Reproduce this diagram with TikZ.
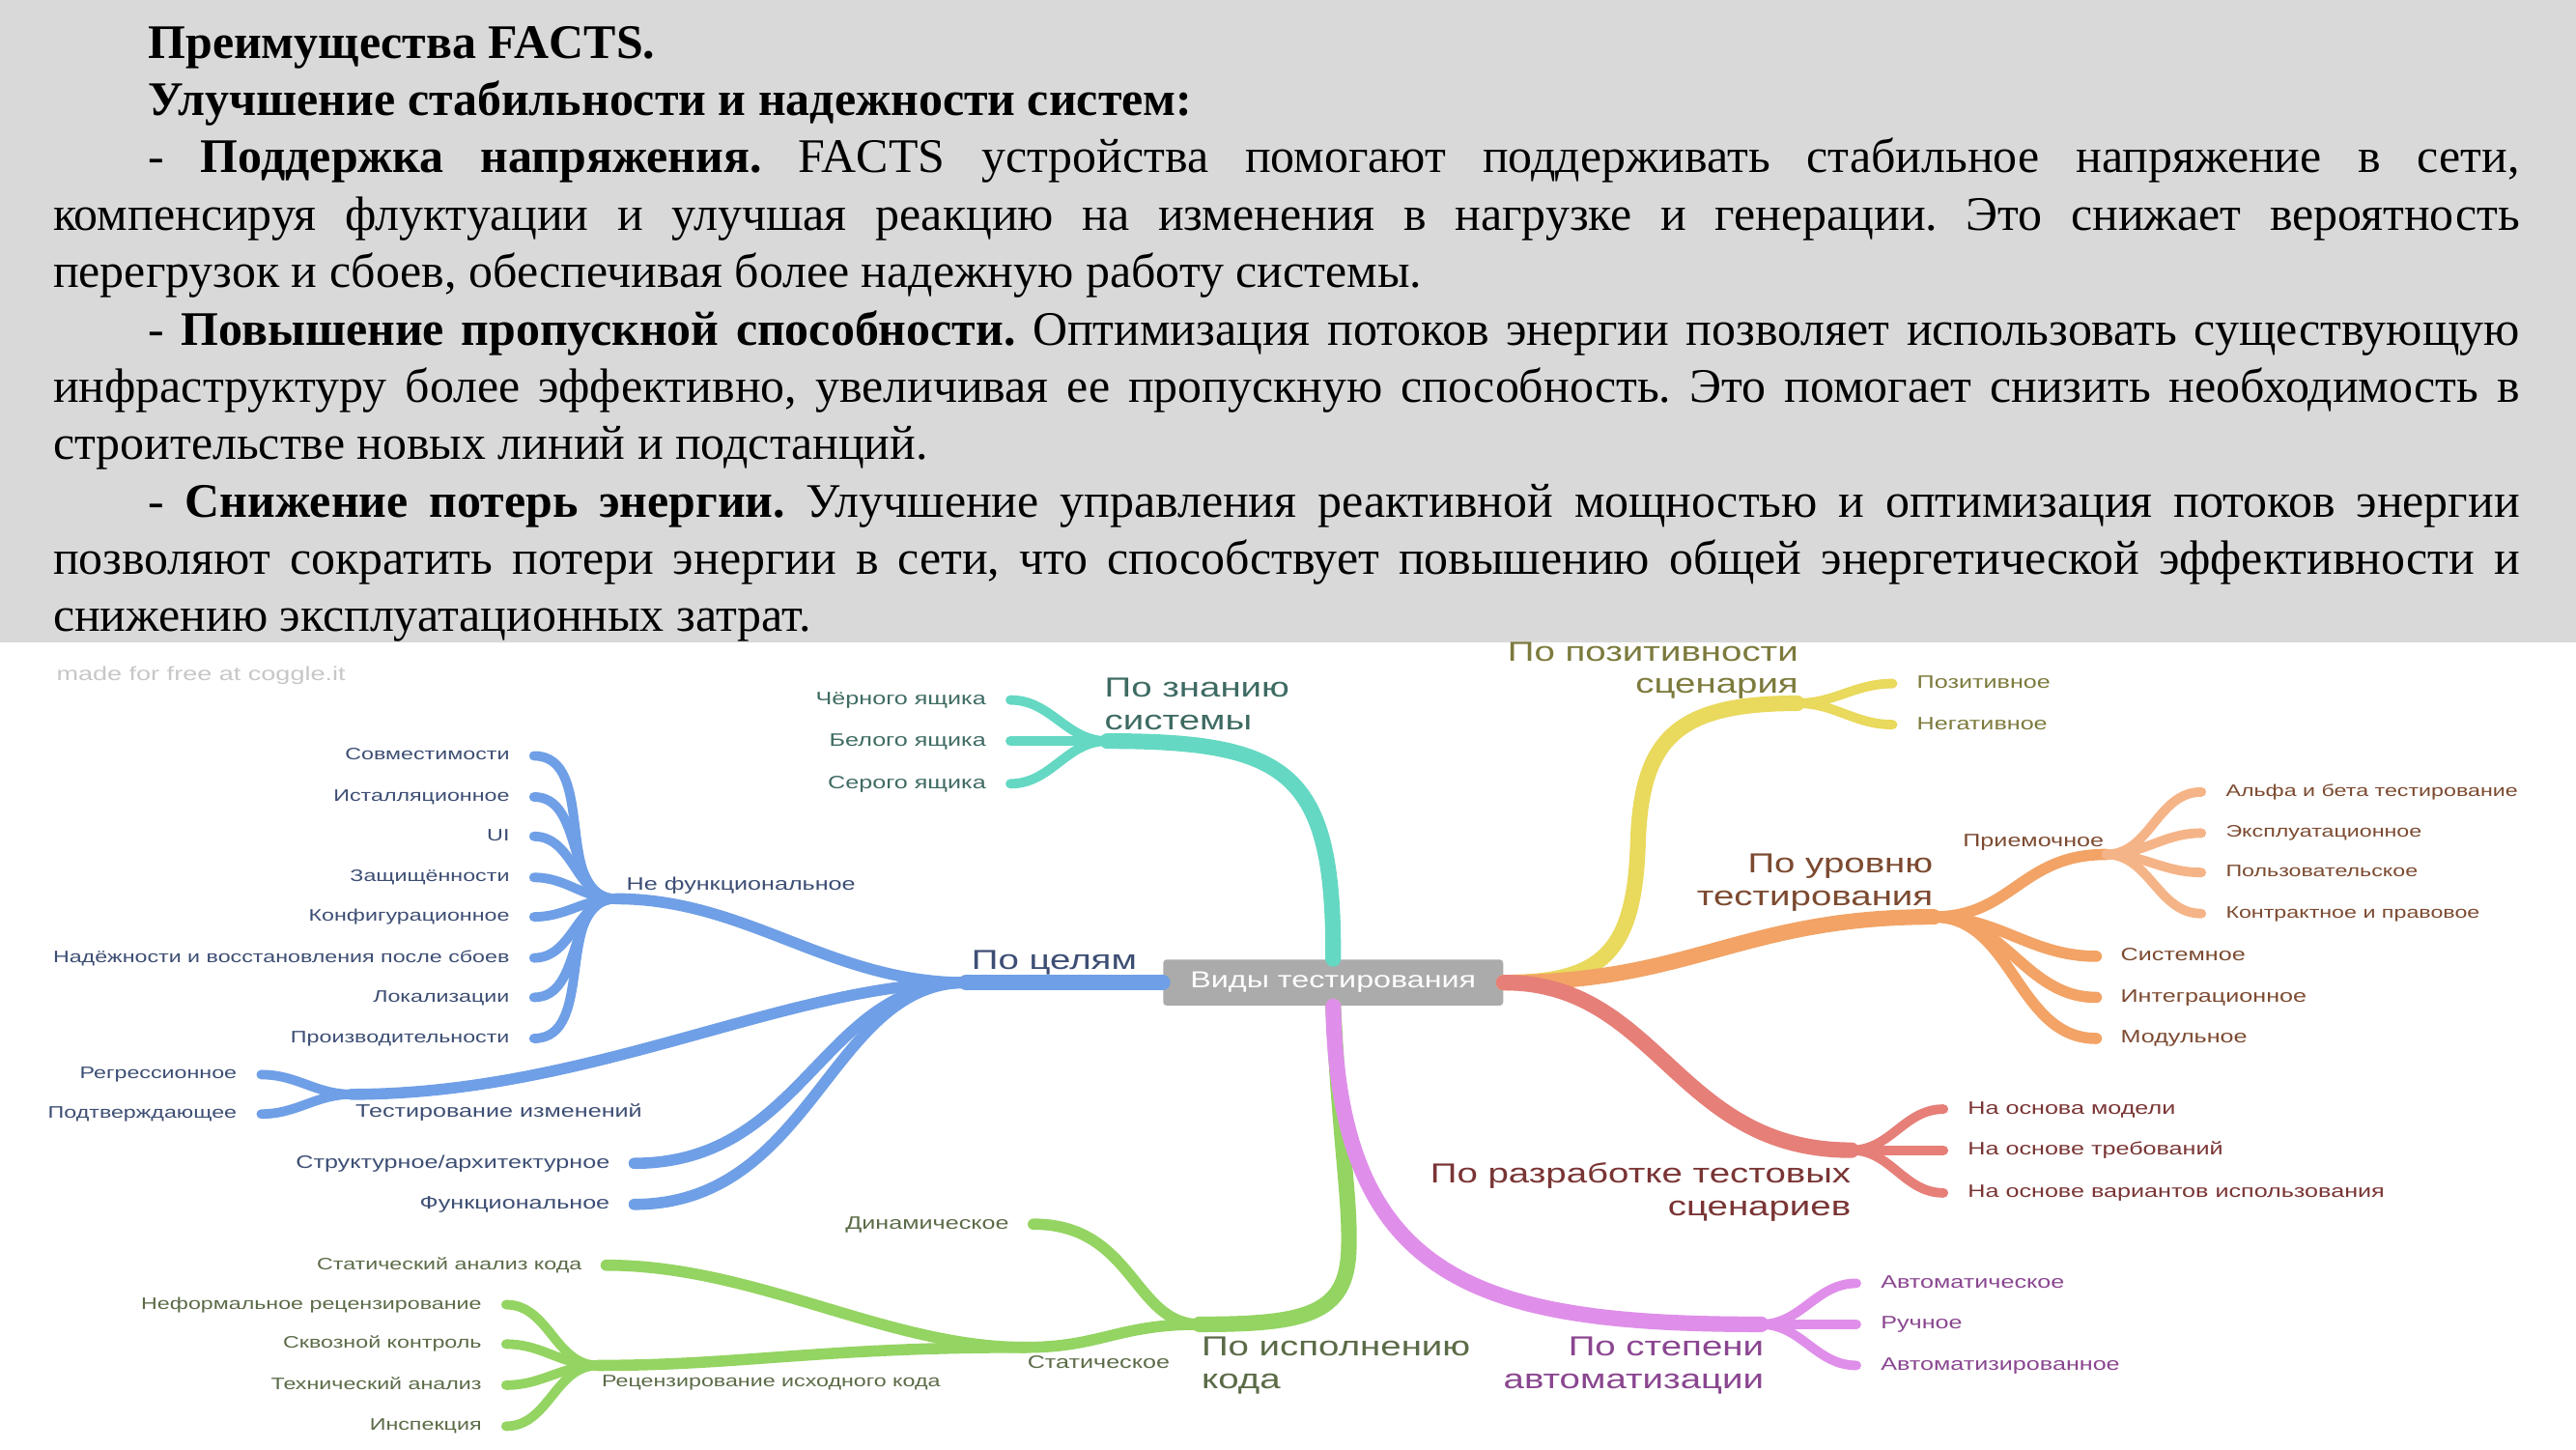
\documentclass[tikz,border=0pt]{standalone}
\usepackage{fontspec}
\setmainfont{Liberation Serif}
\newfontfamily\mapfont{Liberation Sans}[FakeStretch=1.35]
\usepackage{xcolor}

\definecolor{boxgray}{HTML}{D9D9D9}
\definecolor{rootgray}{HTML}{ABABAB}
\definecolor{tealline}{HTML}{64D8C3}
\definecolor{tealtext}{HTML}{3E6B63}
\definecolor{blueline}{HTML}{6F9FE6}
\definecolor{bluetext}{HTML}{3D4E74}
\definecolor{greenline}{HTML}{94D462}
\definecolor{greentext}{HTML}{5B6B47}
\definecolor{purpline}{HTML}{DF8FE9}
\definecolor{purptext}{HTML}{8A4690}
\definecolor{redline}{HTML}{E67F78}
\definecolor{redtext}{HTML}{7A3434}
\definecolor{orangeline}{HTML}{F2A365}
\definecolor{orangelight}{HTML}{F5B487}
\definecolor{orangetext}{HTML}{7C4A30}
\definecolor{yellowline}{HTML}{E9D95C}
\definecolor{yellowtext}{HTML}{7C7A3C}

\begin{document}
\begin{tikzpicture}[x=0.1701mm, y=-0.1701mm,
  trunk/.style={line width=4.6pt, line cap=round},
  twig/.style={line width=3.3pt, line cap=round},
  sprig/.style={line width=2.8pt, line cap=round},
  toplabel/.style={font=\mapfont\fontsize{8.1}{9.6}\selectfont, inner sep=0pt},
  sublabel/.style={font=\mapfont\fontsize{5.3}{6.2}\selectfont, inner sep=0pt},
  leafL/.style={font=\mapfont\fontsize{5.3}{6.2}\selectfont, anchor=east, inner sep=0pt, inner xsep=7pt, text height=3.9pt, text depth=1.1pt},
  leafR/.style={leafL, anchor=west},
  leafS/.style={leafL, font=\mapfont\fontsize{4.9}{5.8}\selectfont, text height=3.6pt, text depth=1pt},
  leafSR/.style={leafS, anchor=west}]
\useasboundingbox (0,0) rectangle (1568,882);
\fill[white] (0,391) rectangle (1568,882);
\fill[boxgray] (0,0) rectangle (1568,391);

% slide text
\node[anchor=base west, inner sep=0pt] (facts) at (32,35.3) {\begin{minipage}[t]{25.54cm}
\fontsize{14.2}{16.9}\selectfont\setlength{\parindent}{28pt}\setlength{\parskip}{0pt}%
\frenchspacing\tolerance=10000 \hyphenpenalty=10000 \emergencystretch=3em
\textbf{Преимущества FACTS.}\par
\textbf{Улучшение стабильности и надежности систем:}\par
- \textbf{Поддержка напряжения.} FACTS устройства помогают поддерживать стабильное напряжение в сети,\linebreak
компенсируя флуктуации и улучшая реакцию на изменения в нагрузке и генерации. Это снижает вероятность\linebreak
перегрузок и сбоев, обеспечивая более надежную работу системы.\par
- \textbf{Повышение пропускной способности.} Оптимизация потоков энергии позволяет использовать существующую\linebreak
инфраструктуру более эффективно, увеличивая ее пропускную способность. Это помогает снизить необходимость в\linebreak
строительстве новых линий и подстанций.\par
- \textbf{Снижение потерь энергии.} Улучшение управления реактивной мощностью и оптимизация потоков энергии\linebreak
позволяют сократить потери энергии в сети, что способствует повышению общей энергетической эффективности и\linebreak
снижению эксплуатационных затрат.
\end{minipage}};

\node[font=\mapfont\fontsize{5.7}{7}\selectfont, text=black!22, anchor=base west, inner sep=0pt] (coggle) at (34,414) {made for free at coggle.it};

% hubs
\coordinate (know) at (674,451);
\coordinate (goal) at (588,598);
\coordinate (nonfunc) at (375,547);
\coordinate (change) at (214,666);
\coordinate (exec) at (730,806);
\coordinate (static) at (624,820);
\coordinate (review) at (364,831);
\coordinate (auto) at (1072,806);
\coordinate (design) at (1127,700);
\coordinate (level) at (1177,558);
\coordinate (accept) at (1282,520);
\coordinate (posit) at (1094,428);

\node[fill=rootgray, text=white, rounded corners=1pt, minimum width=35.2mm, minimum height=4.76mm, inner sep=0pt, font=\mapfont\fontsize{6.8}{8}\selectfont] (root) at (811.5,598) {Виды тестирования};

% po znaniyu sistemy
\draw[trunk, tealline] (root.north) .. controls (812,470) and (785,451) .. (know);
\node[toplabel, text=tealtext, align=left, anchor=base west] (knowlbl) at (672,444) {По знанию\\системы};
\foreach \txt/\y [count=\i] in {Чёрного ящика/426, Белого ящика/451, Серого ящика/477} {
  \node[leafL, text=tealtext] (box\i) at (615,\y) {\txt};
  \draw[sprig, tealline] (know) to[out=180,in=0] (box\i.east);
}

% po celyam
\draw[trunk, blueline] (root.west) -- (goal);
\node[toplabel, text=bluetext, anchor=base west] (goallbl) at (591,590) {По целям};
\draw[twig, blueline] (goal) .. controls (505,598) and (455,547) .. (nonfunc);
\node[sublabel, text=bluetext, anchor=base west] (nflbl) at (381,542) {Не функциональное};
\foreach \txt/\y [count=\i] in {Совместимости/460, Исталляционное/485, UI/509, Защищённости/534, Конфигурационное/558, Надёжности и восстановления после сбоев/583, Локализации/607, Производительности/632} {
  \node[leafS, text=bluetext] (nf\i) at (325,\y) {\txt};
  \draw[sprig, blueline] (nonfunc) to[out=180,in=0] (nf\i.east);
}
\draw[twig, blueline] (goal) .. controls (480,598) and (360,666) .. (change);
\node[sublabel, text=bluetext, anchor=base west] (chlbl) at (216,680) {Тестирование изменений};
\foreach \txt/\y [count=\i] in {Регрессионное/654, Подтверждающее/678} {
  \node[leafS, text=bluetext] (ch\i) at (159,\y) {\txt};
  \draw[sprig, blueline] (change) to[out=180,in=0] (ch\i.east);
}
\node[leafL, text=bluetext] (struct) at (386,708) {Структурное/архитектурное};
\node[leafL, text=bluetext] (func) at (386,733) {Функциональное};
\draw[twig, blueline] (goal) .. controls (500,598) and (490,708) .. (struct.east);
\draw[twig, blueline] (goal) .. controls (505,598) and (495,733) .. (func.east);

% po ispolneniyu koda
\draw[trunk, greenline] (root.south) .. controls (816,700) and (822,730) .. (821,760) .. controls (820,800) and (795,806) .. (exec);
\node[toplabel, text=greentext, align=left, anchor=base west] (execlbl) at (731,845) {По исполнению\\кода};
\node[leafL, text=greentext] (dyn) at (629,745) {Динамическое};
\draw[twig, greenline] (exec) .. controls (690,806) and (690,745) .. (dyn.east);
\draw[twig, greenline] (exec) .. controls (680,806) and (670,820) .. (static);
\node[sublabel, text=greentext, anchor=base west] (stlbl) at (625,833) {Статическое};
\node[leafS, text=greentext] (sca) at (369,770) {Статический анализ кода};
\draw[twig, greenline] (static) .. controls (540,820) and (460,770) .. (sca.east);
\draw[twig, greenline] (static) .. controls (500,820) and (450,831) .. (review);
\node[sublabel, font=\mapfont\fontsize{4.9}{5.8}\selectfont, text=greentext, anchor=base west] (rvlbl) at (366,844) {Рецензирование исходного кода};
\foreach \txt/\y [count=\i] in {Неформальное рецензирование/794, Сквозной контроль/818, Технический анализ/843, Инспекция/868} {
  \node[leafS, text=greentext] (rv\i) at (308,\y) {\txt};
  \draw[sprig, greenline] (review) to[out=180,in=0] (rv\i.east);
}

% po stepeni avtomatizacii
\draw[trunk, purpline] (root.south) .. controls (815,780) and (900,806) .. (auto);
\node[toplabel, text=purptext, align=right, anchor=base east] (autolbl) at (1074,845) {По степени\\автоматизации};
\foreach \txt/\y [count=\i] in {Автоматическое/781, Ручное/806, Автоматизированное/831} {
  \node[leafR, text=purptext] (am\i) at (1130,\y) {\txt};
  \draw[sprig, purpline] (auto) to[out=0,in=180] (am\i.west);
}

% po pozitivnosti scenariya
\draw[trunk, yellowline] (root.east) .. controls (975,598) and (995,580) .. (997,513) .. controls (999,450) and (1020,428) .. (posit);
\node[toplabel, text=yellowtext, align=right, anchor=base east] (positlbl) at (1095,422) {По позитивности\\сценария};
\foreach \txt/\y [count=\i] in {Позитивное/416, Негативное/441} {
  \node[leafR, text=yellowtext] (ps\i) at (1152,\y) {\txt};
  \draw[sprig, yellowline] (posit) to[out=0,in=180] (ps\i.west);
}

% po urovnyu testirovaniya
\draw[trunk, orangeline] (root.east) .. controls (1030,598) and (1060,558) .. (level);
\node[toplabel, text=orangetext, align=right, anchor=base east] (levellbl) at (1177,551) {По уровню\\тестирования};
\draw[twig, orangeline] (level) .. controls (1225,558) and (1230,520) .. (accept);
\node[sublabel, text=orangetext, anchor=base east] (aclbl) at (1281,515.5) {Приемочное};
\foreach \txt/\y [count=\i] in {Альфа и бета тестирование/482, Эксплуатационное/507, Пользовательское/531, Контрактное и правовое/556} {
  \node[leafSR, text=orangetext] (ac\i) at (1340,\y) {\txt};
  \draw[sprig, orangelight] (accept) to[out=0,in=180] (ac\i.west);
}
\foreach \txt/\y [count=\i] in {Системное/582, Интеграционное/607, Модульное/632} {
  \node[leafR, text=orangetext] (lv\i) at (1276,\y) {\txt};
  \draw[twig, orangeline] (level) to[out=0,in=180] (lv\i.west);
}

% po razrabotke testovyh scenariev
\draw[trunk, redline] (root.east) .. controls (1010,598) and (1020,700) .. (design);
\node[toplabel, text=redtext, align=right, anchor=base east] (designlbl) at (1127,740) {По разработке тестовых\\сценариев};
\foreach \txt/\y [count=\i] in {На основа модели/675, На основе требований/700, На основе вариантов использования/726} {
  \node[leafR, text=redtext] (sd\i) at (1183,\y) {\txt};
  \draw[sprig, redline] (design) to[out=0,in=180] (sd\i.west);
}
\end{tikzpicture}
\end{document}
